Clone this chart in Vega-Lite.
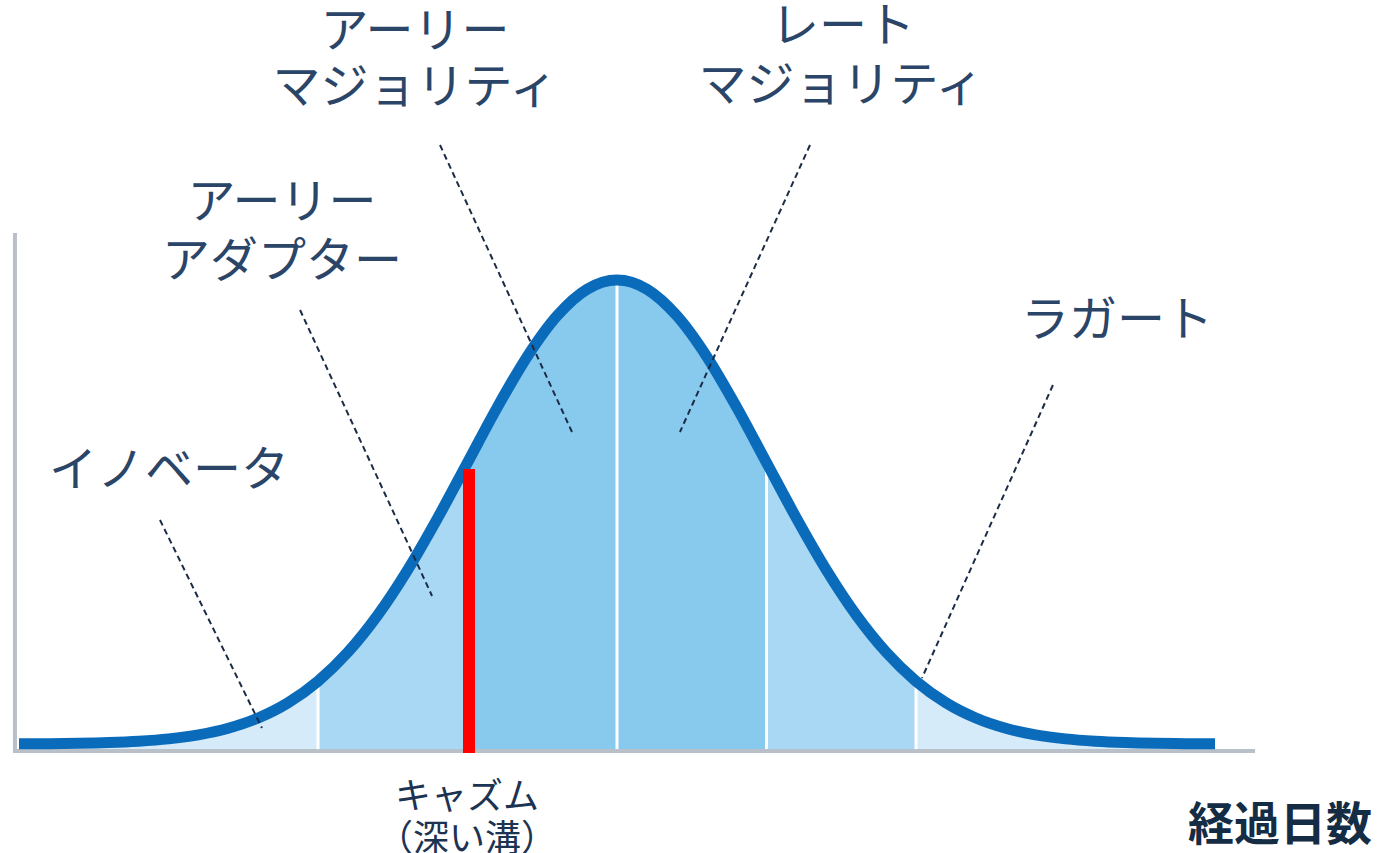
{
  "$schema": "https://vega.github.io/schema/vega-lite/v6.json",
  "width": 1383,
  "height": 853,
  "autosize": "none",
  "padding": 0,
  "background": "white",
  "config": {"view": {"stroke": null}},
  "datasets": {
    "curve": [
      {"z": -4.0, "f": 0.0003}, {"z": -3.8, "f": 0.0007}, {"z": -3.6, "f": 0.0015}, {"z": -3.4, "f": 0.0031},
      {"z": -3.2, "f": 0.0060}, {"z": -3.0, "f": 0.0111}, {"z": -2.8, "f": 0.0198}, {"z": -2.6, "f": 0.0340},
      {"z": -2.4, "f": 0.0561}, {"z": -2.2, "f": 0.0889}, {"z": -2.0, "f": 0.1353}, {"z": -1.8, "f": 0.1979},
      {"z": -1.6, "f": 0.2780}, {"z": -1.4, "f": 0.3753}, {"z": -1.2, "f": 0.4868}, {"z": -1.0, "f": 0.6065},
      {"z": -0.8, "f": 0.7261}, {"z": -0.6, "f": 0.8353}, {"z": -0.4, "f": 0.9231}, {"z": -0.2, "f": 0.9802},
      {"z": 0.0, "f": 1.0},
      {"z": 0.2, "f": 0.9802}, {"z": 0.4, "f": 0.9231}, {"z": 0.6, "f": 0.8353}, {"z": 0.8, "f": 0.7261},
      {"z": 1.0, "f": 0.6065}, {"z": 1.2, "f": 0.4868}, {"z": 1.4, "f": 0.3753}, {"z": 1.6, "f": 0.2780},
      {"z": 1.8, "f": 0.1979}, {"z": 2.0, "f": 0.1353}, {"z": 2.2, "f": 0.0889}, {"z": 2.4, "f": 0.0561},
      {"z": 2.6, "f": 0.0340}, {"z": 2.8, "f": 0.0198}, {"z": 3.0, "f": 0.0111}, {"z": 3.2, "f": 0.0060},
      {"z": 3.4, "f": 0.0031}, {"z": 3.6, "f": 0.0015}, {"z": 3.8, "f": 0.0007}, {"z": 4.0, "f": 0.0003}
    ],
    "axes": [
      {"z": -4.027, "f": 1.1013, "z2": -4.027, "f2": -0.0194},
      {"z": -4.040, "f": -0.0151, "z2": 4.268, "f2": -0.0151}
    ],
    "separators": [
      {"z": -2.0, "f": 0.1353}, {"z": 0.0, "f": 1.0}, {"z": 1.0, "f": 0.6065}, {"z": 2.0, "f": 0.1353}
    ],
    "chasm": [
      {"z": -0.99, "f": 0.5927, "f2": -0.0194}
    ],
    "leaders": [
      {"z": -3.057, "f": 0.4828, "z2": -2.375, "f2": 0.0345},
      {"z": -2.120, "f": 0.9353, "z2": -1.237, "f2": 0.3190},
      {"z": -1.184, "f": 1.2909, "z2": -0.301, "f2": 0.6724},
      {"z": 1.291, "f": 1.2909, "z2": 0.421, "f2": 0.6724},
      {"z": 2.916, "f": 0.7737, "z2": 2.040, "f2": 0.1422}
    ],
    "labels": [
      {"label": "アーリー", "z": -1.351, "f": 1.5323},
      {"label": "マジョリティ", "z": -1.351, "f": 1.4116},
      {"label": "レート", "z": 1.512, "f": 1.5431},
      {"label": "マジョリティ", "z": 1.498, "f": 1.4159},
      {"label": "アーリー", "z": -2.241, "f": 1.1638},
      {"label": "アダプター", "z": -2.241, "f": 1.0366},
      {"label": "イノベータ", "z": -2.997, "f": 0.5862},
      {"label": "ラガート", "z": 3.344, "f": 0.9095}
    ],
    "chasmLabels": [
      {"label": "キャズム", "z": -1.003, "f": -0.1164},
      {"label": "（深い溝）", "z": -1.003, "f": -0.2069}
    ],
    "xTitle": [
      {"label": "経過日数", "z": 5.050, "f": -0.1767}
    ]
  },
  "encoding": {
    "x": {"field": "z", "type": "quantitative", "axis": null, "scale": {"domain": [-4.1271, 5.1237], "nice": false, "zero": false}},
    "y": {"field": "f", "type": "quantitative", "axis": null, "scale": {"domain": [-0.2349, 1.6034], "nice": false, "zero": false}}
  },
  "layer": [
    {
      "data": {"name": "axes"},
      "mark": {"type": "rule", "stroke": "#b9c0c8", "strokeWidth": 4},
      "encoding": {"x2": {"field": "z2"}, "y2": {"field": "f2"}}
    },
    {
      "data": {"name": "curve"},
      "transform": [{"filter": {"field": "z", "range": [-4, -2]}}],
      "mark": {"type": "area", "interpolate": "monotone", "color": "#d6ebf9"},
      "encoding": {"y2": {"datum": -0.011}}
    },
    {
      "data": {"name": "curve"},
      "transform": [{"filter": {"field": "z", "range": [-2, -1]}}],
      "mark": {"type": "area", "interpolate": "monotone", "color": "#a8d8f4"},
      "encoding": {"y2": {"datum": -0.011}}
    },
    {
      "data": {"name": "curve"},
      "transform": [{"filter": {"field": "z", "range": [-1, 0]}}],
      "mark": {"type": "area", "interpolate": "monotone", "color": "#88c9ee"},
      "encoding": {"y2": {"datum": -0.011}}
    },
    {
      "data": {"name": "curve"},
      "transform": [{"filter": {"field": "z", "range": [0, 1]}}],
      "mark": {"type": "area", "interpolate": "monotone", "color": "#88c9ee"},
      "encoding": {"y2": {"datum": -0.011}}
    },
    {
      "data": {"name": "curve"},
      "transform": [{"filter": {"field": "z", "range": [1, 2]}}],
      "mark": {"type": "area", "interpolate": "monotone", "color": "#a8d8f4"},
      "encoding": {"y2": {"datum": -0.011}}
    },
    {
      "data": {"name": "curve"},
      "transform": [{"filter": {"field": "z", "range": [2, 4]}}],
      "mark": {"type": "area", "interpolate": "monotone", "color": "#d6ebf9"},
      "encoding": {"y2": {"datum": -0.011}}
    },
    {
      "data": {"name": "separators"},
      "mark": {"type": "rule", "stroke": "white", "strokeWidth": 3},
      "encoding": {"y2": {"datum": -0.011}}
    },
    {
      "data": {"name": "curve"},
      "mark": {"type": "line", "interpolate": "monotone", "stroke": "#0b6bbb", "strokeWidth": 11, "strokeCap": "butt"},
      "encoding": {}
    },
    {
      "data": {"name": "chasm"},
      "mark": {"type": "rule", "stroke": "#ff0000", "strokeWidth": 12},
      "encoding": {"y2": {"field": "f2"}}
    },
    {
      "data": {"name": "leaders"},
      "mark": {"type": "rule", "stroke": "#1c2c46", "strokeWidth": 2, "strokeDash": [6, 4]},
      "encoding": {"x2": {"field": "z2"}, "y2": {"field": "f2"}}
    },
    {
      "data": {"name": "labels"},
      "mark": {"type": "text", "font": "Noto Sans CJK JP", "fontSize": 48, "color": "#2a4567", "align": "center", "baseline": "middle"},
      "encoding": {"text": {"field": "label"}}
    },
    {
      "data": {"name": "chasmLabels"},
      "mark": {"type": "text", "font": "Noto Sans CJK JP", "fontSize": 36, "color": "#1d3352", "align": "center", "baseline": "middle"},
      "encoding": {"text": {"field": "label"}}
    },
    {
      "data": {"name": "xTitle"},
      "mark": {"type": "text", "font": "Noto Sans CJK JP", "fontSize": 46, "fontWeight": "bold", "color": "#142d45", "align": "right", "baseline": "middle"},
      "encoding": {"text": {"field": "label"}}
    }
  ]
}
